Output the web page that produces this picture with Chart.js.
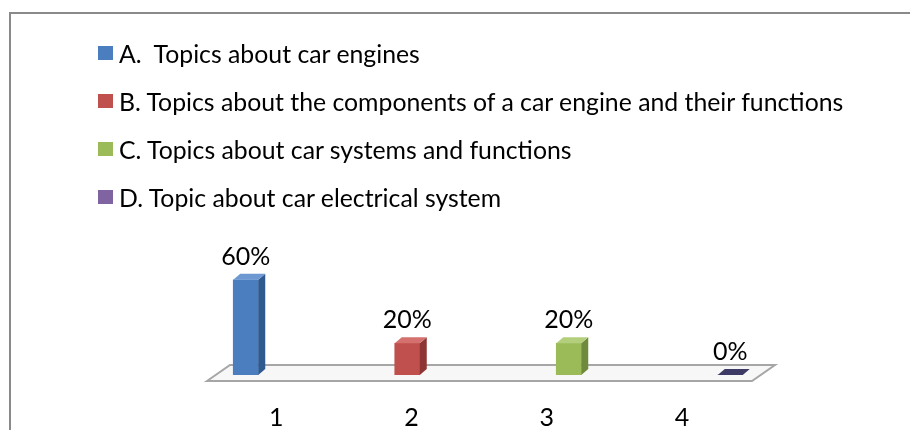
<!DOCTYPE html>
<html>
<head>
<meta charset="utf-8">
<script src="https://cdn.jsdelivr.net/npm/chart.js@4.4.1/dist/chart.umd.min.js"></script>
<style>
  html, body { margin: 0; padding: 0; background: #fff; overflow: hidden; }
  #wrap { position: relative; width: 910px; height: 430px; }
  #frame { position: absolute; left: 9px; top: 12px; width: 2000px; height: 2000px; border: 2px solid #8a8a8a; }
  #chart { position: absolute; left: 0; top: 0; }
  #legend { position: absolute; left: 98px; top: 29px; font-family: Lato, sans-serif; font-size: 24.8px; color: #000; }
  #legend .item { height: 48px; display: flex; align-items: center; white-space: pre; }
  #legend .box { width: 15px; height: 14px; margin-right: 6px; }
</style>
</head>
<body>
<div id="wrap">
  <div id="frame"></div>
  <canvas id="chart" width="910" height="430"></canvas>
  <div id="legend"></div>
</div>
<script>
const categories = ["1", "2", "3", "4"];
const topics = [
  "A.  Topics about car engines",
  "B. Topics about the components of a car engine and their functions",
  "C. Topics about car systems and functions",
  "D. Topic about car electrical system"
];
const shares = [60, 20, 20, 0];
const fronts = ["#4a7ebf", "#c0504d", "#9bbb59", "#8064a2"];
const sides = ["#2f5a8f", "#8e3432", "#6f8a3c", "#3d3b66"];
const tops = ["#6d98d2", "#d4716e", "#b3cf7c", "#3d3b66"];

// html legend, one line per topic
const legend = document.getElementById("legend");
topics.forEach((t, i) => {
  const row = document.createElement("div");
  row.className = "item";
  const box = document.createElement("span");
  box.className = "box";
  box.style.background = fronts[i];
  row.appendChild(box);
  row.appendChild(document.createTextNode(t));
  legend.appendChild(row);
});

// floor + fake 3d faces for the bars
const depth = { dx: 7, dy: -6 };

const floorPlugin = {
  id: "floor",
  beforeDatasetsDraw(chart) {
    const { ctx, chartArea } = chart;
    const y0 = chart.scales.y.getPixelForValue(0);
    const l = chartArea.left + 42, r = chartArea.right - 36;
    ctx.save();
    ctx.beginPath();
    ctx.moveTo(l, y0 + 6);
    ctx.lineTo(l + 23, y0 - 10);
    ctx.lineTo(r, y0 - 10);
    ctx.lineTo(r - 23, y0 + 6);
    ctx.closePath();
    ctx.fillStyle = "#f7f7f7";
    ctx.fill();
    ctx.strokeStyle = "#a6a6a6";
    ctx.lineWidth = 2;
    ctx.stroke();
    ctx.restore();
  }
};

const barFaces = {
  id: "barFaces",
  afterDatasetsDraw(chart) {
    const { ctx } = chart;
    const meta = chart.getDatasetMeta(0);
    ctx.save();
    meta.data.forEach((bar, i) => {
      const p = bar.getProps(["x", "y", "base", "width"], true);
      const x1 = p.x - p.width / 2, x2 = p.x + p.width / 2;
      // side
      ctx.beginPath();
      ctx.moveTo(x2, p.y);
      ctx.lineTo(x2 + depth.dx, p.y + depth.dy);
      ctx.lineTo(x2 + depth.dx, p.base + depth.dy);
      ctx.lineTo(x2, p.base);
      ctx.closePath();
      ctx.fillStyle = sides[i];
      ctx.fill();
      // top
      ctx.beginPath();
      ctx.moveTo(x1, p.y);
      ctx.lineTo(x1 + depth.dx, p.y + depth.dy);
      ctx.lineTo(x2 + depth.dx, p.y + depth.dy);
      ctx.lineTo(x2, p.y);
      ctx.closePath();
      ctx.fillStyle = tops[i];
      ctx.fill();
      // value label
      ctx.fillStyle = "#000";
      ctx.font = "25px Lato";
      ctx.textAlign = "center";
      ctx.textBaseline = "middle";
      ctx.fillText(shares[i] + "%", p.x, p.y - 23);
    });
    ctx.restore();
  }
};

Chart.defaults.font.family = "Lato";
Chart.defaults.color = "#000";

new Chart(document.getElementById("chart"), {
  type: "bar",
  data: {
    labels: categories,
    datasets: [{
      data: shares,
      backgroundColor: fronts,
      barThickness: 25
    }]
  },
  options: {
    responsive: false,
    animation: false,
    devicePixelRatio: 1,
    layout: { padding: { left: 165, right: 99, top: 248, bottom: 0 } },
    plugins: { legend: { display: false }, tooltip: { enabled: false } },
    scales: {
      x: { display: false },
      y: { display: false, min: 0, max: 80 },
      // category labels sit offset from the bars (perspective), so they get their own axis
      x2: {
        type: "linear",
        position: "bottom",
        offset: false,
        bounds: "data",
        min: 0.178,
        max: 4.953,
        afterBuildTicks: (s) => { s.ticks = categories.map((c, i) => ({ value: i + 1 })); },
        afterFit: (s) => { s.height = 55; },
        grid: { display: false, drawTicks: false },
        border: { display: false },
        ticks: {
          autoSkip: false,
          maxRotation: 0,
          padding: 28,
          font: { size: 25 },
          callback: (v) => categories[v - 1]
        }
      }
    }
  },
  plugins: [floorPlugin, barFaces]
});
</script>
</body>
</html>
